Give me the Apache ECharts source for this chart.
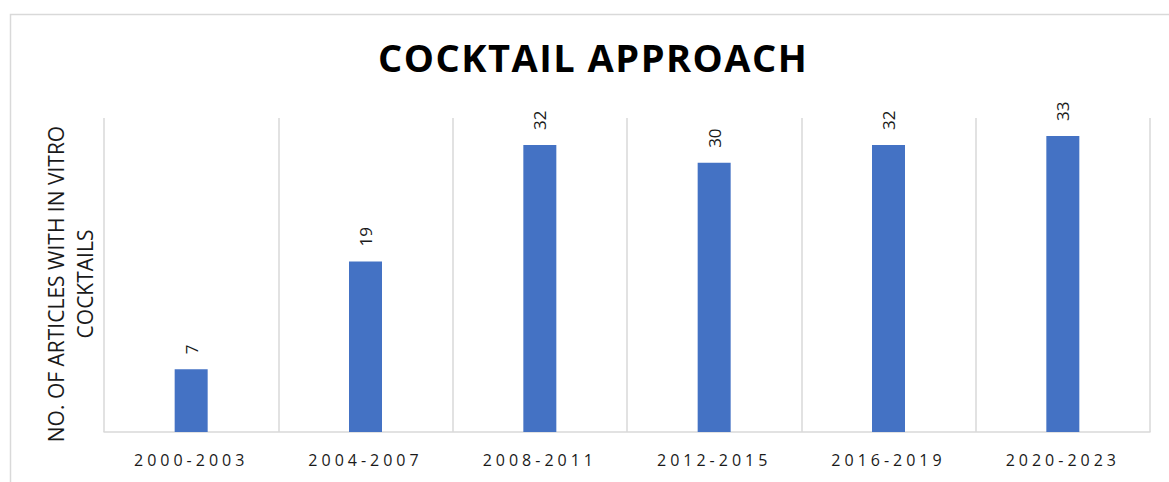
<!DOCTYPE html>
<html>
<head>
<meta charset="utf-8">
<script src="https://cdn.jsdelivr.net/npm/echarts@6/dist/echarts.min.js"></script>
<style>
  html, body { margin: 0; padding: 0; background: #fff; }
  #chart { width: 1169px; height: 482px; }
</style>
</head>
<body>
<div id="chart"></div>
<script>
var periods = ["2000-2003", "2004-2007", "2008-2011", "2012-2015", "2016-2019", "2020-2023"];
var articles = [7, 19, 32, 30, 32, 33];
var titleText = "COCKTAIL APPROACH";
var yName = "NO. OF ARTICLES WITH IN VITRO\nCOCKTAILS";

var font = "'Open Sans', 'Noto Sans', sans-serif";

const myChart = echarts.init(document.getElementById("chart"), null, { renderer: "svg" });

const option = {
  animation: false,
  backgroundColor: "#fff",
  title: {
    text: titleText,
    left: 373,
    top: 33,
    textStyle: {
      fontFamily: font,
      fontSize: 38,
      fontWeight: "bold",
      color: "#000",
    },
  },
  graphic: [
    {
      type: "rect",
      left: 8,
      top: 12,
      shape: { width: 1300, height: 600 },
      style: { fill: "none", stroke: "#d9d9d9", lineWidth: 1.5 },
      silent: true,
    },
  ],
  grid: {
    left: 104,
    right: 19,
    top: 118,
    bottom: 50,
  },
  xAxis: {
    type: "category",
    data: periods,
    axisLine: { lineStyle: { color: "#d9d9d9", width: 1.5 } },
    axisTick: { show: false },
    splitLine: { show: true, interval: 0, lineStyle: { color: "#d9d9d9", width: 1.5 } },
    axisLabel: {
      interval: 0,
      margin: 20,
      fontFamily: font,
      fontSize: 16,
      color: "#1a1a1a",
    },
  },
  yAxis: {
    type: "value",
    min: 0,
    max: 35,
    axisLine: { show: false },
    axisTick: { show: false },
    axisLabel: { show: false },
    splitLine: { show: false },
    name: yName,
    nameLocation: "middle",
    nameGap: 5,
    nameTextStyle: {
      fontFamily: font,
      fontSize: 21,
      lineHeight: 29,
      color: "#1a1a1a",
      align: "center",
      padding: [0, 18, 0, 0],
    },
  },
  series: [
    {
      name: "Articles",
      type: "bar",
      data: articles,
      barWidth: 33,
      itemStyle: { color: "#4472C4" },
      label: {
        show: true,
        position: "top",
        rotate: 90,
        align: "left",
        verticalAlign: "middle",
        distance: 15,
        fontFamily: font,
        fontSize: 17,
        color: "#1a1a1a",
      },
    },
  ],
};

myChart.setOption(option);

// letter spacing for the title and the period labels (svg renderer)
function spaceOut() {
  document.querySelectorAll("#chart text").forEach(function (t) {
    var s = t.textContent;
    if (s === titleText) t.setAttribute("letter-spacing", "1.5");
    else if (periods.indexOf(s) >= 0) t.setAttribute("letter-spacing", "4");
  });
}
spaceOut();
myChart.on("finished", spaceOut);
</script>
</body>
</html>
